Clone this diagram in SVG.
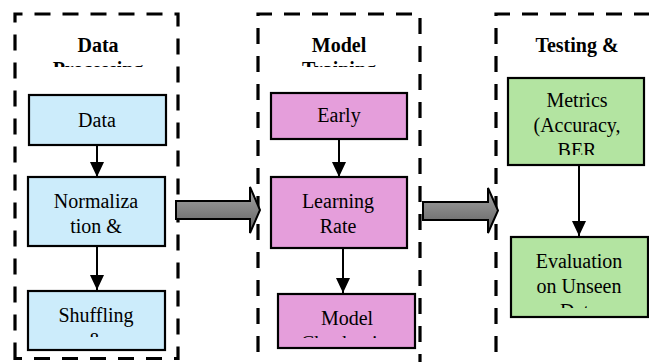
<svg xmlns="http://www.w3.org/2000/svg" width="649" height="362" viewBox="0 0 649 362">
<style>
.grp{fill:none;stroke:#000;stroke-width:3.2;stroke-dasharray:16 12}
text{font-family:'Liberation Serif','Times New Roman',Tinos,'DejaVu Serif',serif;font-size:20px;text-anchor:middle;fill:#000}
.title{font-weight:bold}
.node{stroke:#000;stroke-width:2.2}
.blue{fill:#CCECFB}
.pink{fill:#E59EDB}
.green{fill:#B3E4A1}
.conn{stroke:#000;stroke-width:2;fill:none;marker-end:url(#ah)}
.big{fill:url(#gr);stroke:#000;stroke-width:2;stroke-linejoin:miter}
</style>
<defs>
<marker id="ah" markerWidth="14" markerHeight="15" refX="7" refY="15" orient="0" markerUnits="userSpaceOnUse" viewBox="0 0 14 15">
<path d="M0,0 L14,0 L7,15 Z" fill="#000"/>
</marker>
<linearGradient id="gr" x1="0" y1="0" x2="0" y2="1">
<stop offset="0" stop-color="#a8a8a8"/>
<stop offset="1" stop-color="#5e5e5e"/>
</linearGradient>
<clipPath id="ct"><rect x="0" y="0" width="649" height="67"/></clipPath>
<clipPath id="c1"><rect x="0" y="290" width="649" height="47"/></clipPath>
<clipPath id="c2"><rect x="0" y="290" width="649" height="48"/></clipPath>
<clipPath id="c3"><rect x="0" y="78" width="649" height="77"/></clipPath>
<clipPath id="c4"><rect x="0" y="237" width="649" height="71"/></clipPath>
</defs>

<g id="group-preprocessing">
<path class="grp" d="M15,358.5 L15,14 L178,14 L178,358.5 Z"/>
<g clip-path="url(#ct)">
<text class="title" x="98" y="52">Data</text>
<text class="title" x="98" y="76">Processing</text>
</g>
</g>
<g id="group-training">
<path class="grp" d="M258,380 L258,14 L420,14 L420,380"/>
<g clip-path="url(#ct)">
<text class="title" x="339" y="52">Model</text>
<text class="title" x="339" y="76">Training</text>
</g>
</g>
<g id="group-testing">
<path class="grp" d="M496,380 L496,14 L680,14"/>
<g clip-path="url(#ct)">
<text class="title" x="577" y="52">Testing &amp;</text>
</g>
</g>

<g id="n-data">
<rect class="node blue" x="29" y="95" width="137" height="50"/>
<text x="97" y="127">Data</text>
</g>
<g id="n-normalization">
<rect class="node blue" x="28" y="177" width="137" height="69"/>
<text x="96" y="208">Normaliza</text>
<text x="96" y="233">tion &amp;</text>
</g>
<g id="n-shuffling">
<rect class="node blue" x="28" y="291" width="137" height="59"/>
<g clip-path="url(#c1)">
<text x="96" y="322">Shuffling</text>
<text x="96" y="346.5">&amp;</text>
</g>
</g>

<g id="n-early">
<rect class="node pink" x="271" y="93" width="136" height="46"/>
<text x="339" y="122">Early</text>
</g>
<g id="n-learning">
<rect class="node pink" x="271" y="177" width="136" height="71"/>
<text x="338" y="208">Learning</text>
<text x="338" y="233">Rate</text>
</g>
<g id="n-checkpoint">
<rect class="node pink" x="278" y="294" width="137" height="54"/>
<g clip-path="url(#c2)">
<text x="347" y="325">Model</text>
<text x="347" y="349.5">Checkpoint</text>
</g>
</g>

<g id="n-metrics">
<rect class="node green" x="508" y="78" width="136" height="87"/>
<g clip-path="url(#c3)">
<text x="577" y="107">Metrics</text>
<text x="577" y="132">(Accuracy,</text>
<text x="577" y="157">BER</text>
</g>
</g>
<g id="n-evaluation">
<rect class="node green" x="511" y="237" width="137" height="80"/>
<g clip-path="url(#c4)">
<text x="579" y="268">Evaluation</text>
<text x="579" y="293">on Unseen</text>
<text x="579" y="318">Data</text>
</g>
</g>

<g id="connectors">
<line class="conn" x1="97" y1="145" x2="97" y2="177"/>
<line class="conn" x1="97" y1="246" x2="97" y2="290"/>
<line class="conn" x1="339" y1="139" x2="339" y2="177"/>
<line class="conn" x1="343" y1="248" x2="343" y2="293"/>
<line class="conn" x1="579" y1="165" x2="579" y2="236"/>
<path class="big" d="M176,201 L250,201 L250,187 L260,210 L250,233 L250,219 L176,219 Z"/>
<path class="big" d="M423,202 L488,202 L488,188 L498,210.5 L488,233 L488,220 L423,220 Z"/>
</g>
</svg>
